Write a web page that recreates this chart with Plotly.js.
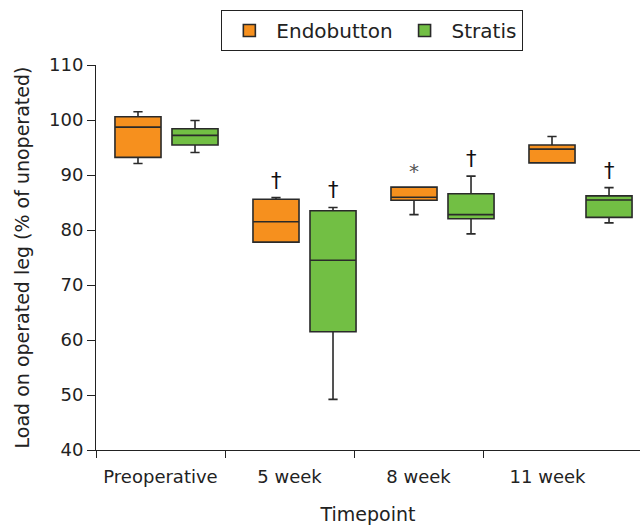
<!DOCTYPE html>
<html><head><meta charset="utf-8">
<script src="https://cdn.plot.ly/plotly-3.0.1.min.js"></script>
<style>html,body{margin:0;padding:0;background:#fff}#chart{width:640px;height:525px}</style>
</head><body><div id="chart"></div>
<script>
const categories = ['Preoperative', '5 week', '8 week', '11 week'];

const endoLower  = [92.1, 77.8, 82.8, 92.2];
const endoQ1     = [93.2, 77.8, 85.4, 92.2];
const endoMedian = [98.7, 81.5, 85.95, 94.7];
const endoQ3     = [100.6, 85.6, 87.8, 95.45];
const endoUpper  = [101.5, 85.9, 87.8, 97.0];

const stratisLower  = [94.1, 49.2, 79.3, 81.3];
const stratisQ1     = [95.45, 61.5, 82.05, 82.3];
const stratisMedian = [97.2, 74.5, 82.8, 85.45];
const stratisQ3     = [98.4, 83.5, 86.6, 86.2];
const stratisUpper  = [99.9, 84.1, 89.8, 87.7];

const endoMarks    = ['', '\u2020', '*', ''];
const stratisMarks = ['', '\u2020', '\u2020', '\u2020'];

// layout geometry (boxes sit on a slightly wider grid than the category ticks)
const groupStart = 0.0465, groupStep = 1.0698, halfGap = 0.221, boxW = 0.357;
const endoX = categories.map((_, i) => groupStart + i * groupStep - halfGap);
const stratisX = categories.map((_, i) => groupStart + i * groupStep + halfGap);

const outline = '#2a2a2a';
function boxTrace(name, x, lo, q1, med, q3, hi, fill) {
  return {
    type: 'box', name: name, x: x, q1: q1, median: med, q3: q3,
    lowerfence: lo, upperfence: hi, width: boxW, whiskerwidth: 0.2,
    boxpoints: false, fillcolor: fill, line: {color: outline, width: 1.6},
    hoverinfo: 'y'
  };
}

const traces = [
  boxTrace('Endobutton', endoX, endoLower, endoQ1, endoMedian, endoQ3, endoUpper, '#F6901E'),
  boxTrace('Stratis', stratisX, stratisLower, stratisQ1, stratisMedian, stratisQ3, stratisUpper, '#72BF44')
];

const annotations = [];
function addMarks(marks, xs, tops) {
  marks.forEach((m, i) => {
    if (!m) return;
    const star = m === '*';
    annotations.push({
      x: xs[i], y: tops[i], xref: 'x', yref: 'y', text: m, showarrow: false,
      yanchor: 'bottom', yshift: star ? 2 : 3,
      font: {size: star ? 20 : 21, color: star ? '#555555' : '#111111', family: 'DejaVu Sans'}
    });
  });
}
addMarks(endoMarks, endoX, endoUpper);
addMarks(stratisMarks, stratisX, stratisUpper);

const layout = {
  width: 640, height: 525,
  margin: {l: 96, r: 0, t: 65, b: 75},
  paper_bgcolor: '#fff', plot_bgcolor: '#fff',
  font: {family: 'DejaVu Sans', color: '#222', size: 18},
  showlegend: true,
  boxmode: 'overlay',
  legend: {
    orientation: 'h', x: 0.508, xanchor: 'center', y: 1.143, yanchor: 'top',
    bordercolor: '#222', borderwidth: 1, font: {size: 20}, itemwidth: 44
  },
  xaxis: {
    range: [-0.5, 3.717], tickmode: 'array', tickvals: [0, 1, 2, 3], ticktext: categories,
    ticks: '', showline: true, linecolor: '#222', linewidth: 1, showgrid: false, zeroline: false,
    tickfont: {size: 18}, ticklabelstandoff: 10,
    minor: {tickmode: 'array', tickvals: [-0.5, 0.5, 1.5, 2.5], ticks: 'outside', ticklen: 7, tickcolor: '#222', tickwidth: 1, showgrid: false},
    title: {text: 'Timepoint', font: {size: 19}, standoff: 24}
  },
  yaxis: {
    range: [40, 110], tick0: 40, dtick: 10, ticks: 'outside', ticklen: 8, tickcolor: '#222',
    showline: true, linecolor: '#222', linewidth: 1, showgrid: false, zeroline: false,
    tickfont: {size: 18},
    title: {text: 'Load on operated leg (% of unoperated)', font: {size: 19}, standoff: 14}
  },
  annotations: annotations
};

Plotly.newPlot('chart', traces, layout, {displayModeBar: false, staticPlot: true});
</script>
</body></html>
